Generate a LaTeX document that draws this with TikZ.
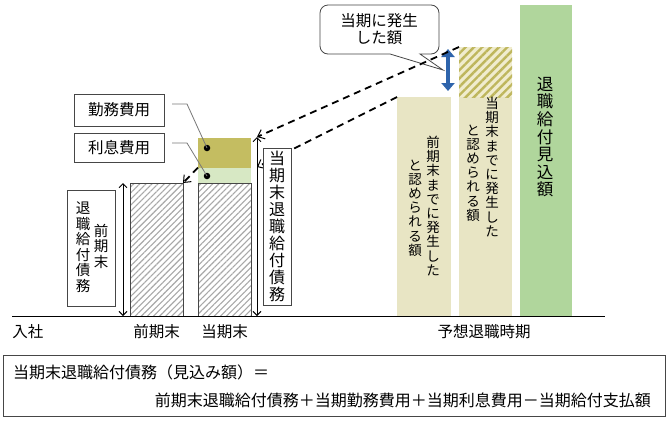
\documentclass[tikz,border=0pt]{standalone}
\usepackage{fontspec}
\newfontfamily\jpfont{Noto Sans CJK JP}
\usetikzlibrary{arrows.meta,positioning,calc,patterns.meta}
\definecolor{olivefill}{RGB}{196,189,97}
\definecolor{mintfill}{RGB}{215,232,196}
\definecolor{beigefill}{RGB}{232,229,196}
\definecolor{greenfill}{RGB}{176,214,156}
\definecolor{hatchbg}{RGB}{240,236,206}
\definecolor{olivehatch}{RGB}{190,182,92}
\definecolor{hatchgray}{RGB}{168,168,168}
\definecolor{edgegray}{RGB}{70,70,70}
\definecolor{leadgray}{RGB}{120,120,120}
\definecolor{arrowblue}{RGB}{46,100,172}
\tikzset{>={Straight Barb[length=4pt,width=8pt]},
  jp/.style={font=\jpfont\fontsize{15.5}{17}\selectfont, inner sep=0pt},
  vcol/.style={align=center, inner sep=0pt, font=\jpfont\fontsize{13.5}{14.2}\selectfont},
  bar/.style={anchor=south west, inner sep=0pt, outer sep=0pt},
  hatchbar/.style={bar, draw=edgegray, line width=0.8pt, pattern={Lines[angle=45,distance=4.3pt,line width=1.1pt]}, pattern color=hatchgray},
  lblbox/.style={draw=edgegray, line width=0.8pt, fill=white, inner sep=0pt},
  dot/.style={circle, fill=black, inner sep=0pt, minimum size=6.5pt},
  leader/.style={leadgray, line width=0.8pt},
  spanarrow/.style={<->, line width=1pt},
  dasharrow/.style={-{Straight Barb[length=6pt,width=10pt,line width=1pt]}, line width=1.8pt, dash pattern=on 7pt off 5pt},
  bluearrow/.style={{Triangle[length=8pt,width=13pt]}-{Triangle[length=8pt,width=13pt]}, line width=4.5pt, arrowblue}}
\begin{document}
\begin{tikzpicture}[x=1pt, y=-1pt]
  \fill[white] (0,0) rectangle (668,421);
  \useasboundingbox (0,0) rectangle (668,421);
  % bars at the two year ends
  \node[hatchbar, minimum width=53, minimum height=133] (prevbar) at (130,316) {};
  \node[hatchbar, minimum width=53, minimum height=133] (curbar) at (198,316) {};
  \node[bar, fill=mintfill, minimum width=53, minimum height=15, above=0.4pt of curbar] (intbar) {};
  \node[bar, fill=olivefill, minimum width=53, minimum height=30, above=0pt of intbar] (srvbar) {};
  % bars at retirement
  \node[bar, fill=beigefill, minimum width=54, minimum height=219] (pastbar) at (397,316) {};
  \node[bar, fill=beigefill, minimum width=53, minimum height=219] (nowbar) at (459,316) {};
  \node[bar, minimum width=53, minimum height=50, above=0pt of nowbar, preaction={fill=hatchbg},
    pattern={Lines[angle=45,distance=5.9pt,line width=2.4pt]}, pattern color=olivehatch] (nowhatch) {};
  \node[bar, fill=greenfill, minimum width=52, minimum height=311] (totalbar) at (520,316) {};
  \node[vcol] (pasttxtA) at (433,206) {前\\期\\末\\ま\\で\\に\\発\\生\\し\\た};
  \node[vcol] (pasttxtB) at (415,208) {と\\認\\め\\ら\\れ\\る\\額};
  \node[vcol] (nowtxtA) at (492,167) {当\\期\\末\\ま\\で\\に\\発\\生\\し\\た};
  \node[vcol] (nowtxtB) at (473,173) {と\\認\\め\\ら\\れ\\る\\額};
  \node[vcol, font=\jpfont\fontsize{16.5}{17.6}\selectfont] (totaltxt) at (545,137) {退\\職\\給\\付\\見\\込\\額};
  % time axis
  \coordinate (axisL) at (12,316);
  \coordinate (axisR) at (605,316);
  \draw[line width=0.8pt] (axisL) -- (axisR);
  \node[jp] (joinlbl) at (28,332) {入社};
  \node[jp, below=8pt of prevbar] (prevlbl) {前期末};
  \node[jp, below=8pt of curbar] (curlbl) {当期末};
  \node[jp] (retlbl) at (484,332) {予想退職時期};
  % obligation spans
  \coordinate (prevtop) at (123,183);
  \coordinate (prevbot) at (123,316);
  \coordinate (curtop) at (257,137);
  \coordinate (curmid) at (257,167);
  \coordinate (curbot) at (257,316);
  \draw[spanarrow] (prevtop) -- (prevbot);
  \draw[spanarrow] (curtop) -- (curbot);
  % callout
  \draw[edgegray, line width=0.8pt, fill=white, rounded corners=8pt] (320,5) -- (439,5) -- (439,54)
    [sharp corners] -- (420,54) -- (443,70) -- (390,54) [rounded corners=8pt] -- (320,54) -- cycle;
  \node[jp, align=center] (callnote) at (379,29) {当期に発生\\した額};
  \coordinate (bluetop) at (448,49);
  \coordinate (bluebot) at (448,91);
  \draw[bluearrow] (bluetop) -- (bluebot);
  % projections back to the year ends
  \draw[dasharrow] (nowhatch.north west) -- (curtop);
  \draw[dasharrow] (pastbar.north west) -- (curmid);
  \draw[dasharrow] (intbar.north west) -- (prevbar.north east);
  % labels
  \node[lblbox, minimum width=48, minimum height=116] (prevdebt) at (91,248) {};
  \node[vcol, font=\jpfont\fontsize{14.5}{15.5}\selectfont] (prevdebtA) at (83,247) {退\\職\\給\\付\\債\\務};
  \node[vcol, font=\jpfont\fontsize{14.5}{15.5}\selectfont] (prevdebtB) at (101,246) {前\\期\\末};
  \node[lblbox, align=center, minimum width=28, minimum height=157, font=\jpfont\fontsize{16}{17}\selectfont] (curdebt) at (277,226.5)
    {当\\期\\末\\退\\職\\給\\付\\債\\務};
  \node[lblbox, jp, minimum width=90, minimum height=32] (srvbox) at (119,110) {勤務費用};
  \node[lblbox, jp, minimum width=90, minimum height=29] (intbox) at (119,147.5) {利息費用};
  \node[dot] (srvdot) at (207,148) {};
  \node[dot] (intdot) at (207,176) {};
  \coordinate (srvlead) at (172,104);
  \coordinate (intlead) at (172,143);
  \draw[leader] (srvlead) -- ++(15,0) -- (srvdot.center);
  \draw[leader] (intlead) -- ++(15,0) -- (intdot.center);
  % formula
  \node[lblbox, fill=none, minimum width=662, minimum height=61, anchor=north west] (formula) at (3,355) {};
  \node[jp, font=\jpfont\fontsize{16}{17}\selectfont, anchor=west] (formA) at (13,372) {当期末退職給付債務（見込み額）＝};
  \node[jp, font=\jpfont\fontsize{16}{17}\selectfont, anchor=east] (formB) at (651,400)
    {前期末退職給付債務＋当期勤務費用＋当期利息費用－当期給付支払額};
\end{tikzpicture}
\end{document}
